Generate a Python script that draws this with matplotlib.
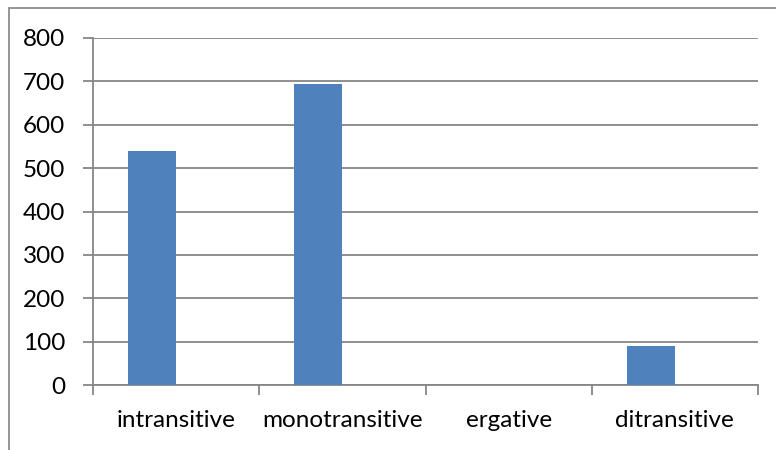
import numpy as np
import matplotlib.pyplot as plt
from matplotlib.patches import Rectangle

categories = ['intransitive', 'monotransitive', 'ergative', 'ditransitive']
counts = [540, 694, 0, 91]
yticks = [0, 100, 200, 300, 400, 500, 600, 700, 800]

plt.rcParams['font.family'] = ['Lato', 'DejaVu Sans']

fig = plt.figure(figsize=(7.76, 4.5), dpi=100)
W, H = 776, 450
# plot area in pixels: left 93, right 758, top 38 (800), bottom 385 (0)
ax = fig.add_axes([93 / W, 1 - 385 / H, (758 - 93) / W, (385 - 38) / H])

# outer chart border (runs off the bottom and right of the image)
fig.patches.append(Rectangle((9 / W, -0.1), 1.2, 1 - 8 / H + 0.1,
                             transform=fig.transFigure, fill=False,
                             edgecolor='#8c8c8c', linewidth=1.3))

x = np.arange(len(categories))
# bars sit left of the category centre, as in an Excel clustered chart
ax.bar(x - 0.145, counts, width=0.29, color='#4f81bd', zorder=3)

ax.set_xlim(-0.5, len(categories) - 0.5)
ax.set_ylim(0, 800)
ax.set_yticks(yticks)
ax.yaxis.grid(True, color='#868686', linewidth=1.3)
ax.set_axisbelow(True)

ax.set_xticks(np.arange(len(categories) + 1) - 0.5)
ax.set_xticklabels([])
ax.set_xticks(x, minor=True)
ax.set_xticklabels(categories, minor=True, fontsize=17.5)
ax.tick_params(axis='x', which='minor', length=0, pad=18)
ax.tick_params(axis='x', which='major', length=7, width=1.3, color='#868686')
ax.tick_params(axis='y', length=7, width=1.3, color='#868686', labelsize=17.5, pad=13)

for s in ['top', 'right']:
    ax.spines[s].set_visible(False)
for s in ['left', 'bottom']:
    ax.spines[s].set_color('#868686')
    ax.spines[s].set_linewidth(1.3)

fig.savefig('out.png', dpi=100)
